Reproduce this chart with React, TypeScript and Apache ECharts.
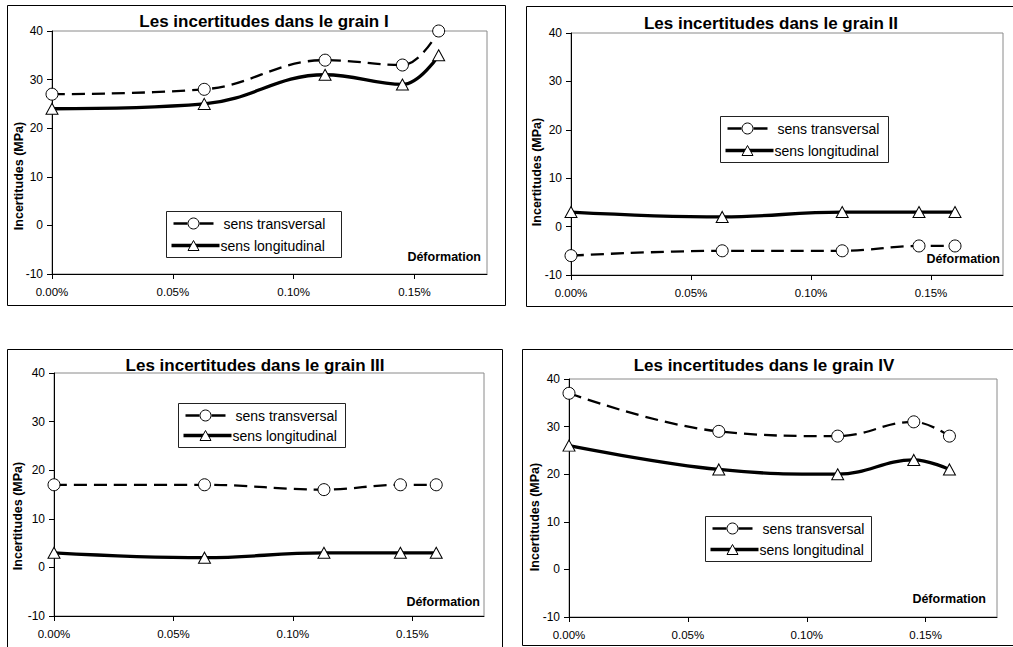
import React, { useEffect, useRef } from 'react';
import * as echarts from 'echarts';

// strain values (fraction) common to all grains
const strain = [0, 0.00063, 0.00113, 0.00145, 0.0016];
const xTickValues = [0, 0.0005, 0.001, 0.0015];

const titles = [
  'Les incertitudes dans le grain I',
  'Les incertitudes dans le grain II',
  'Les incertitudes dans le grain III',
  'Les incertitudes dans le grain IV',
];
const seriesNames = ['sens transversal', 'sens longitudinal'];
const yName = 'Incertitudes (MPa)';
const xName = 'Déformation';

const transI = [27, 28, 34, 33, 40];
const longI = [24, 25, 31, 29, 35];
const transII = [-6, -5, -5, -4, -4];
const longII = [3, 2, 3, 3, 3];
const transIII = [17, 17, 16, 17, 17];
const longIII = [3, 2, 3, 3, 3];
const transIV = [37, 29, 28, 31, 28];
const longIV = [26, 21, 20, 23, 21];

const trans = [transI, transII, transIII, transIV];
const longi = [longI, longII, longIII, longIV];

const FONT = '"Liberation Sans", Arial, sans-serif';

// layout of each panel (pixels)
const panels = [
  {
    frame: [7.5, 5.5, 498, 300],
    grid: { left: 52, top: 31, width: 435, height: 243 },
    title: [264, 21],
    legend: [166.5, 211.5, 175, 46],
    yname: [19, 176],
    xname: [481, 257],
  },
  {
    frame: [526.5, 6.5, 500, 300],
    grid: { left: 571, top: 33, width: 432, height: 242 },
    title: [771, 23],
    legend: [720.5, 116.5, 168, 46],
    yname: [537, 172],
    xname: [1000, 259],
  },
  {
    frame: [7.5, 349.5, 495, 300],
    grid: { left: 54, top: 373, width: 430, height: 243 },
    title: [255, 365],
    legend: [178.5, 403.5, 167, 44],
    yname: [18, 516],
    xname: [480, 602],
  },
  {
    frame: [522.5, 349.5, 500, 296],
    grid: { left: 569, top: 379, width: 428, height: 238 },
    title: [764, 365],
    legend: [705.5, 516.5, 166, 45],
    yname: [535, 517],
    xname: [986, 599],
  },
];

function legendGroup(x: number, y: number, w: number, h: number) {
  const r1 = 12;
  const r2 = h - 12;
  return {
    type: 'group',
    x,
    y,
    z: 20,
    children: [
      { type: 'rect', shape: { x: 0, y: 0, width: w, height: h }, style: { fill: '#fff', stroke: '#222', lineWidth: 1 } },
      { type: 'line', shape: { x1: 7, y1: r1, x2: 21, y2: r1 }, style: { stroke: '#000', lineWidth: 2.5 } },
      { type: 'line', shape: { x1: 33, y1: r1, x2: 47, y2: r1 }, style: { stroke: '#000', lineWidth: 2.5 } },
      { type: 'circle', shape: { cx: 27, cy: r1, r: 5.5 }, style: { fill: '#fff', stroke: '#000', lineWidth: 1 } },
      { type: 'text', style: { x: 57, y: r1, text: seriesNames[0], font: `14px ${FONT}`, fill: '#000', textAlign: 'left', textVerticalAlign: 'middle' } },
      { type: 'line', shape: { x1: 5, y1: r2, x2: 53, y2: r2 }, style: { stroke: '#000', lineWidth: 3.5 } },
      { type: 'polygon', shape: { points: [[21.5, r2 + 5], [32.5, r2 + 5], [27, r2 - 5]] }, style: { fill: '#fff', stroke: '#000', lineWidth: 1 } },
      { type: 'text', style: { x: 54, y: r2, text: seriesNames[1], font: `14px ${FONT}`, fill: '#000', textAlign: 'left', textVerticalAlign: 'middle' } },
    ],
  };
}

export default function App() {
  const ref = useRef<HTMLDivElement>(null);
  useEffect(() => {
    if (!ref.current) return;
    const chart = echarts.init(ref.current, null, { renderer: 'svg' });

    const grids = panels.map((p) => ({
      ...p.grid,
      show: true,
      borderColor: '#8a8a8a',
      borderWidth: 1,
      backgroundColor: '#fff',
    }));

    const xAxes = panels.map((_, i) => ({
      type: 'value',
      gridIndex: i,
      min: 0,
      max: 0.0018,
      interval: 0.0005,
      splitLine: { show: false },
      axisLine: { onZero: false, lineStyle: { color: '#000', width: 1 } },
      axisTick: { show: true, length: 5, lineStyle: { color: '#000' }, customValues: xTickValues },
      axisLabel: {
        color: '#000',
        fontSize: 11.5,
        fontFamily: FONT,
        margin: 12,
        customValues: xTickValues,
        formatter: (v: number) => (v * 100).toFixed(2) + '%',
      },
    }));

    const yAxes = panels.map((_, i) => ({
      type: 'value',
      gridIndex: i,
      min: -10,
      max: 40,
      interval: 10,
      splitLine: { show: false },
      axisLine: { show: true, onZero: false, lineStyle: { color: '#000', width: 1 } },
      axisTick: { show: true, length: 5, lineStyle: { color: '#000' } },
      axisLabel: { color: '#000', fontSize: 12, fontFamily: FONT, margin: 9 },
    }));

    const series: any[] = [];
    panels.forEach((_, i) => {
      series.push({
        name: seriesNames[0],
        type: 'line',
        xAxisIndex: i,
        yAxisIndex: i,
        data: strain.map((x, j) => [x, trans[i][j]]),
        smooth: 0.4,
        symbol: 'circle',
        symbolSize: 12,
        lineStyle: { color: '#000', width: 2.3, type: [13, 7] },
        itemStyle: { color: '#fff', borderColor: '#000', borderWidth: 1 },
        z: 3,
      });
      series.push({
        name: seriesNames[1],
        type: 'line',
        xAxisIndex: i,
        yAxisIndex: i,
        data: strain.map((x, j) => [x, longi[i][j]]),
        smooth: 0.4,
        symbol: 'triangle',
        symbolSize: [12, 11],
        lineStyle: { color: '#000', width: 3.3 },
        itemStyle: { color: '#fff', borderColor: '#000', borderWidth: 1 },
        z: 3,
      });
    });

    const graphics: any[] = [];
    panels.forEach((p, i) => {
      graphics.push({
        type: 'rect',
        z: -10,
        shape: { x: p.frame[0], y: p.frame[1], width: p.frame[2], height: p.frame[3] },
        style: { fill: 'none', stroke: '#000', lineWidth: 1 },
      });
      graphics.push({
        type: 'text',
        z: 10,
        style: {
          x: p.title[0],
          y: p.title[1],
          text: titles[i],
          font: `bold 17px ${FONT}`,
          fill: '#000',
          textAlign: 'center',
          textVerticalAlign: 'middle',
        },
      });
      graphics.push({
        type: 'text',
        z: 10,
        x: p.yname[0],
        y: p.yname[1],
        rotation: Math.PI / 2,
        style: {
          x: 0,
          y: 0,
          text: yName,
          font: `bold 12.5px ${FONT}`,
          fill: '#000',
          textAlign: 'center',
          textVerticalAlign: 'middle',
        },
      });
      graphics.push({
        type: 'text',
        z: 10,
        style: {
          x: p.xname[0],
          y: p.xname[1],
          text: xName,
          font: `bold 12.5px ${FONT}`,
          fill: '#000',
          textAlign: 'right',
          textVerticalAlign: 'middle',
        },
      });
      graphics.push(legendGroup(p.legend[0], p.legend[1], p.legend[2], p.legend[3]));
    });

    chart.setOption({
      animation: false,
      backgroundColor: '#fff',
      grid: grids,
      xAxis: xAxes,
      yAxis: yAxes,
      series,
      graphic: graphics,
    });
    return () => chart.dispose();
  }, []);

  return (
    <div
      ref={ref}
      style={{ position: 'fixed', left: 0, top: 0, width: 1013, height: 647, background: '#fff' }}
    />
  );
}
